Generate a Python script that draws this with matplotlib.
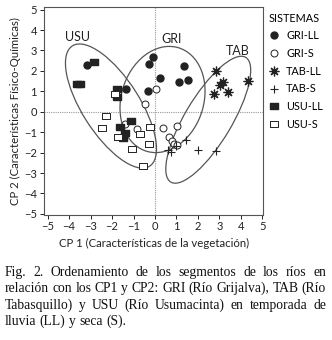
import matplotlib
matplotlib.use('Agg')
import matplotlib.pyplot as plt
from matplotlib.patches import Ellipse

# values
gri_ll_x = [-3.15, -0.09, -0.27, 0.22, 1.37, 1.52, 1.12, -0.33, -1.33]
gri_ll_y = [2.27, 2.66, 2.36, 1.63, 2.23, 1.55, 1.45, 1.03, 1.11]
gri_s_x = [0.06, -0.45, -1.40, -0.86, 0.38, 1.03, 0.67, 0.80, 0.90, 1.02]
gri_s_y = [1.12, 0.38, -0.58, -0.86, -0.79, -0.70, -1.24, -1.42, -1.58, -1.65]
tab_ll_x = [2.85, 3.05, 3.15, 3.38, 2.77, 4.31]
tab_ll_y = [1.98, 1.32, 1.45, 0.98, 0.86, 1.52]
tab_s_x = [1.45, 1.99, 2.84, 0.62, 0.76, 0.99]
tab_s_y = [-1.38, -1.87, -1.91, -1.87, -1.99, -1.70]
usu_ll_x = [-2.84, -3.65, -3.50, -1.76, -1.76, -1.63, -1.14, -1.40, -1.48]
usu_ll_y = [2.45, 1.38, 1.36, 1.12, 0.70, -0.73, -0.45, -1.03, -1.27]
usu_s_x = [-1.87, -2.30, -2.45, -1.71, -1.09, -0.71, -0.25, -0.28, -0.58]
usu_s_y = [0.88, -0.23, -0.79, -1.25, -1.84, -1.09, -0.76, -1.58, -2.66]

# groups: ellipse centre, width, height, angle, label position
groups = ['USU', 'GRI', 'TAB']
ell_centers = [(-2.05, 0.28), (0.35, 0.60), (2.48, -0.39)]
ell_widths = [6.9, 5.28, 7.03]
ell_heights = [2.7, 3.85, 2.2]
ell_angles = [-59, 75, 60.5]
label_pos = [(-3.6, 3.67), (0.76, 3.54), (3.84, 2.98)]

caption = [
    'Fig. 2. Ordenamiento de los segmentos de los ríos en',
    'relación con los CP1 y CP2: GRI (Río Grijalva), TAB (Río',
    'Tabasquillo) y USU (Río Usumacinta) en temporada de',
    'lluvia (LL) y seca (S).',
]

INK = '#222222'
LINE = '#555555'
plt.rcParams['font.family'] = ['Lato', 'DejaVu Sans']

rect = [(-1, -0.68), (1, -0.68), (1, 0.68), (-1, 0.68), (-1, -0.68)]

fig = plt.figure(figsize=(3.32, 3.40), dpi=100)
ax = fig.add_axes([0.1325, 0.369, 0.661, 0.610])

ax.axvline(0, color='#999999', lw=0.8, ls=(0, (1, 1)), zorder=0)
ax.axhline(0, color='#999999', lw=0.8, ls=(0, (1, 1)), zorder=0)

for c, w, h, a in zip(ell_centers, ell_widths, ell_heights, ell_angles):
    ax.add_patch(Ellipse(c, w, h, angle=a, fill=False, ec=LINE, lw=0.9))
for name, (lx, ly) in zip(groups, label_pos):
    ax.text(lx, ly, name, fontsize=9, ha='center', va='center', color=INK)

ax.plot(gri_ll_x, gri_ll_y, 'o', ms=5, color=INK, mec=INK, label='GRI-LL')
ax.plot(gri_s_x, gri_s_y, 'o', ms=5, mfc='white', mec=INK, mew=0.7, label='GRI-S')
ax.plot(tab_ll_x, tab_ll_y, ls='none', marker=(8, 2, 0), ms=7, mec=INK, mew=0.9,
        label='TAB-LL')
ax.plot(tab_s_x, tab_s_y, '+', ms=6, mec=INK, mew=0.8, label='TAB-S')
ax.plot(usu_ll_x, usu_ll_y, ls='none', marker=rect, ms=6, color=INK, label='USU-LL')
ax.plot(usu_s_x, usu_s_y, ls='none', marker=rect, ms=6, mfc='white', mec=INK,
        mew=0.7, label='USU-S')

ax.set_xlim(-5.17, 5.05)
ax.set_ylim(-5.03, 5.12)
ax.set_xticks(range(-5, 6))
ax.set_yticks(range(-5, 6))
ax.tick_params(labelsize=8, length=3, width=0.7, colors=INK, pad=2)
for s in ax.spines.values():
    s.set_color(LINE)
    s.set_linewidth(0.8)
ax.set_xlabel('CP 1 (Características de la vegetación)', fontsize=8.2, color=INK,
              labelpad=4)
ax.set_ylabel('CP 2 (Características Físico-Químicas)', fontsize=8.2, color=INK,
              labelpad=2)

leg = ax.legend(loc='upper left', bbox_to_anchor=(1.0, 1.0), frameon=False,
                title='SISTEMAS', fontsize=7.8, title_fontsize=7.8,
                alignment='left', handlelength=1.0, handletextpad=0.6,
                labelspacing=0.62, borderaxespad=0.3, borderpad=0.2)

# justified caption, word by word
fig.canvas.draw()
r = fig.canvas.get_renderer()
left, right = 5, 326
baselines = [276, 292, 309, 325]
cap_kw = dict(family='Liberation Serif', fontsize=9.8, color='#111111',
              va='baseline')
sp = fig.text(0, 0, 'a b', **cap_kw)
sp_w = sp.get_window_extent(r).width
sp.remove()
aw = fig.text(0, 0, 'ab', **cap_kw)
sp_w -= aw.get_window_extent(r).width
aw.remove()
for i, line in enumerate(caption):
    words = line.split()
    texts = [fig.text(0, 1 - baselines[i] / 340, w, **cap_kw) for w in words]
    widths = [t.get_window_extent(r).width for t in texts]
    if i < len(caption) - 1:
        gap = (right - left - sum(widths)) / (len(words) - 1)
    else:
        gap = sp_w
    x = left
    for t, w in zip(texts, widths):
        t.set_x(x / 332)
        x += w + gap

fig.savefig('out.png', dpi=100)
